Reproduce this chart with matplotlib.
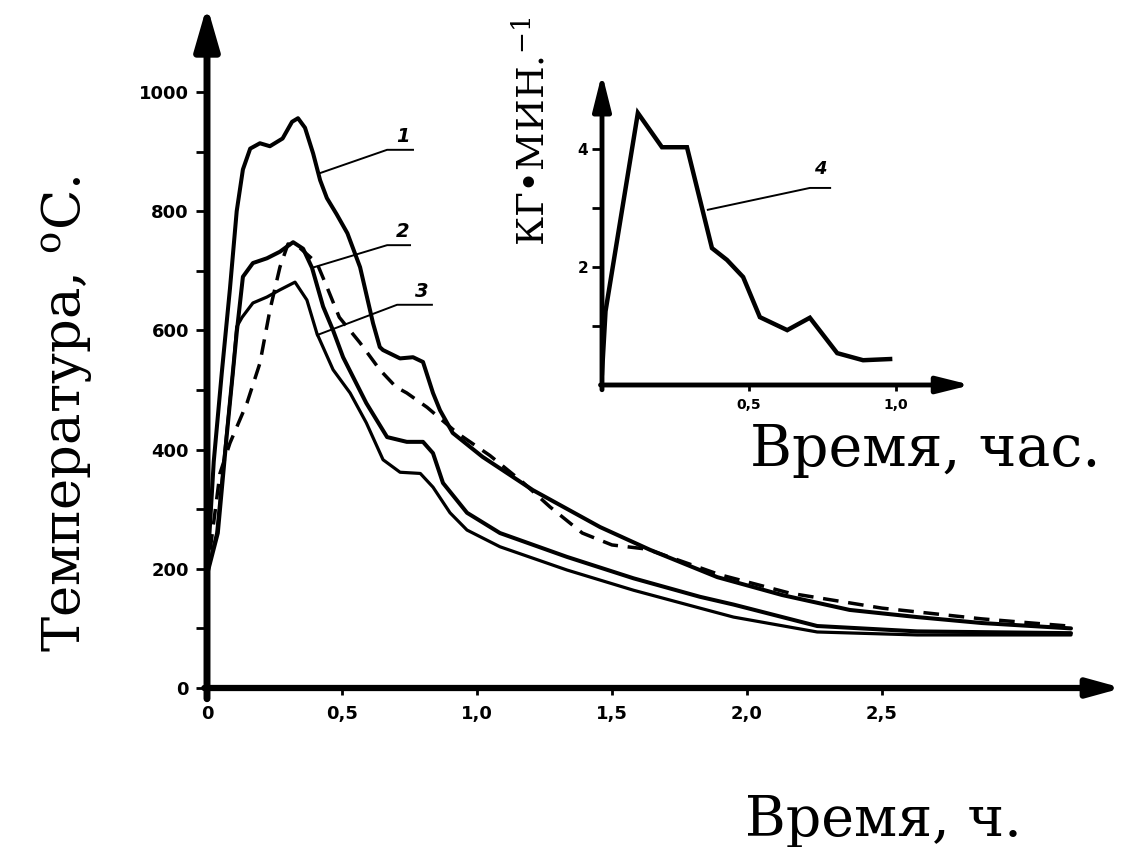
import matplotlib
matplotlib.use("Agg")
import matplotlib.pyplot as plt

# ---------------- data ----------------
# curve 1 (upper, thick)
t1 = [0.0, 0.025, 0.055, 0.085, 0.11, 0.133, 0.16, 0.196, 0.233, 0.28, 0.315, 0.337,
      0.363, 0.393, 0.419, 0.444, 0.48, 0.52, 0.567, 0.615, 0.64, 0.652, 0.715, 0.763,
      0.80, 0.837, 0.863, 0.91, 1.02, 1.207, 1.456, 1.64, 1.89, 2.13, 2.38, 2.63, 2.87, 3.2]
temp1 = [190, 380, 530, 670, 800, 870, 905, 914, 909, 922, 950, 956,
         940, 897, 852, 822, 795, 763, 706, 612, 572, 567, 553, 555,
         547, 495, 466, 428, 388, 332, 270, 232, 186, 156, 131, 119, 109, 100]

# curve 2 (middle, thick)
t2 = [0.0, 0.04, 0.074, 0.11, 0.133, 0.17, 0.222, 0.27, 0.319, 0.356, 0.389, 0.43,
      0.467, 0.504, 0.59, 0.667, 0.74, 0.80, 0.837, 0.874, 0.963, 1.085, 1.333, 1.58,
      1.826, 1.95, 2.26, 2.63, 3.2]
temp2 = [190, 260, 428, 596, 690, 713, 721, 732, 748, 737, 705, 640,
         600, 555, 478, 421, 413, 413, 394, 344, 294, 260, 220, 184,
         153, 140, 104, 95, 92]

# curve 3 (lower)
t3 = [0.0, 0.036, 0.06, 0.096, 0.11, 0.13, 0.17, 0.222, 0.27, 0.326, 0.37, 0.407,
      0.467, 0.53, 0.59, 0.652, 0.715, 0.79, 0.837, 0.9, 0.963, 1.085, 1.333, 1.58,
      1.826, 1.95, 2.26, 2.63, 3.2]
temp3 = [190, 260, 371, 530, 606, 622, 646, 656, 668, 681, 651, 595,
         534, 495, 445, 383, 362, 360, 337, 294, 265, 237, 198, 164,
         134, 119, 94, 89, 89]

# dashed curve
t_dash = [0.0, 0.048, 0.085, 0.148, 0.196, 0.233, 0.27, 0.30, 0.34, 0.407, 0.444,
          0.49, 0.567, 0.64, 0.70, 0.74, 0.815, 0.926, 1.048, 1.17, 1.27, 1.39, 1.50,
          1.63, 1.9, 2.16, 2.5, 2.87, 3.19]
temp_dash = [190, 360, 411, 478, 545, 634, 706, 745, 740, 713, 673,
             622, 579, 534, 505, 495, 471, 428, 390, 345, 304, 260, 240,
             233, 190, 159, 134, 116, 104]

# inset curve 4 (kg/min)
t4 = [0.0, 0.012, 0.122, 0.204, 0.289, 0.374, 0.425, 0.48, 0.537, 0.63, 0.707, 0.8, 0.888, 0.98]
rate4 = [0.2, 1.25, 4.61, 4.03, 4.03, 2.32, 2.12, 1.83, 1.15, 0.93, 1.14, 0.54, 0.42, 0.44]

x_ticks = [0, 0.5, 1.0, 1.5, 2.0, 2.5]
x_ticklabels = ["0", "0,5", "1,0", "1,5", "2,0", "2,5"]
y_ticks = [0, 200, 400, 600, 800, 1000]
y_ticklabels = ["0", "200", "400", "600", "800", "1000"]
y_minor = [100, 300, 500, 700, 900]

in_x_ticks = [0.5, 1.0]
in_x_ticklabels = ["0,5", "1,0"]
in_y_ticks = [1, 2, 3, 4]
in_y_ticklabels = ["", "2", "", "4"]

# ---------------- figure ----------------
W, H = 1125, 847
plt.rcParams["mathtext.fontset"] = "dejavuserif"
fig = plt.figure(figsize=(W / 100, H / 100), dpi=100)
fig.patch.set_facecolor("white")

LABEL_FONT = "DejaVu Serif"

# main axes geometry (pixels)
x0px, y0px = 207, 688
pxh, pxdeg = 270.0, 0.596
xmax, ymax = 3.39, 1145
ax = fig.add_axes([x0px / W, (H - y0px) / H, xmax * pxh / W, ymax * pxdeg / H])
ax.set_xlim(0, xmax)
ax.set_ylim(0, ymax)
for s in ax.spines.values():
    s.set_visible(False)
ax.patch.set_alpha(0)

# axis lines with arrows
ax.annotate("", xy=(0, ymax), xytext=(0, -18), xycoords="data",
            arrowprops=dict(arrowstyle="-|>,head_length=2.6,head_width=0.75",
                            lw=5, color="k", shrinkA=0, shrinkB=0, mutation_scale=10),
            annotation_clip=False)
ax.annotate("", xy=(xmax, 0), xytext=(-0.01, 0), xycoords="data",
            arrowprops=dict(arrowstyle="-|>,head_length=2.0,head_width=0.55",
                            lw=4.5, color="k", shrinkA=0, shrinkB=0, mutation_scale=10),
            annotation_clip=False)

ax.set_xticks(x_ticks)
ax.set_xticklabels(x_ticklabels, fontsize=13, fontweight="bold")
ax.set_yticks(y_ticks)
ax.set_yticklabels(y_ticklabels, fontsize=13, fontweight="bold")
ax.set_yticks(y_minor, minor=True)
ax.tick_params(axis="y", which="both", direction="out", length=8, width=2, pad=5)
ax.tick_params(axis="x", which="both", direction="out", length=5, width=2, pad=7)

# curves
ax.plot(t1, temp1, color="k", lw=2.9, solid_joinstyle="round", solid_capstyle="round")
ax.plot(t2, temp2, color="k", lw=2.9, solid_joinstyle="round", solid_capstyle="round")
ax.plot(t3, temp3, color="k", lw=2.3, solid_joinstyle="round", solid_capstyle="round")
ax.plot(t_dash, temp_dash, color="k", lw=2.5, dashes=(4.5, 2.8))

# leader lines and curve numbers
ax.plot([0.419, 0.667, 0.763], [864, 903, 903], color="k", lw=1.4)
ax.plot([0.389, 0.667, 0.752], [705, 743, 743], color="k", lw=1.4)
ax.plot([0.407, 0.704, 0.833], [592, 643, 643], color="k", lw=1.4)
for xx, yy, s in [(0.726, 926, "1"), (0.726, 766, "2"), (0.796, 666, "3")]:
    ax.text(xx, yy, s, fontsize=14, fontweight="bold", style="italic",
            ha="center", va="center")

# ---------------- inset ----------------
ix0, iy0 = 602, 385
ipxh, ipxu = 294.0, 59.0
ixmax, iymax = 1.255, 5.28
ax2 = fig.add_axes([ix0 / W, (H - iy0) / H, ixmax * ipxh / W, iymax * ipxu / H])
ax2.set_xlim(0, ixmax)
ax2.set_ylim(0, iymax)
for s in ax2.spines.values():
    s.set_visible(False)
ax2.patch.set_alpha(0)
ax2.annotate("", xy=(0, iymax), xytext=(0, -0.08), xycoords="data",
             arrowprops=dict(arrowstyle="-|>,head_length=2.2,head_width=0.55",
                             lw=3.5, color="k", shrinkA=0, shrinkB=0, mutation_scale=10),
             annotation_clip=False)
ax2.annotate("", xy=(ixmax, 0), xytext=(-0.005, 0), xycoords="data",
             arrowprops=dict(arrowstyle="-|>,head_length=2.0,head_width=0.5",
                             lw=3.5, color="k", shrinkA=0, shrinkB=0, mutation_scale=10),
             annotation_clip=False)
ax2.set_xticks(in_x_ticks)
ax2.set_xticklabels(in_x_ticklabels, fontsize=10, fontweight="bold")
ax2.set_yticks(in_y_ticks)
ax2.set_yticklabels(in_y_ticklabels, fontsize=11, fontweight="bold")
ax2.tick_params(axis="y", direction="out", length=7, width=2, pad=3)
ax2.tick_params(axis="x", direction="out", length=4, width=2, pad=5)

ax2.plot(t4, rate4, color="k", lw=3.2, solid_joinstyle="miter")
ax2.plot([0.36, 0.707, 0.776], [2.97, 3.34, 3.34], color="k", lw=1.4)
ax2.text(0.741, 3.66, "4", fontsize=13, fontweight="bold", style="italic",
         ha="center", va="center")

# ---------------- axis titles ----------------
fig.text(745 / W, 1 - 836 / H, "Время, ч.", fontsize=40, family=LABEL_FONT,
         ha="left", va="baseline")
fig.text(750 / W, 1 - 466 / H, "Время, час.", fontsize=41, family=LABEL_FONT,
         ha="left", va="baseline")
fig.text(80 / W, 1 - 652 / H, "Температура, $^{\\mathrm{o}}$С.", fontsize=38,
         family=LABEL_FONT, rotation=90, rotation_mode="anchor",
         ha="left", va="baseline")
fig.text(544 / W, 1 - 246 / H, "КГ•МИН.$^{-1}$", fontsize=27, family=LABEL_FONT,
         rotation=90, rotation_mode="anchor", ha="left", va="baseline")

fig.savefig("out.png", dpi=100, facecolor="white")
